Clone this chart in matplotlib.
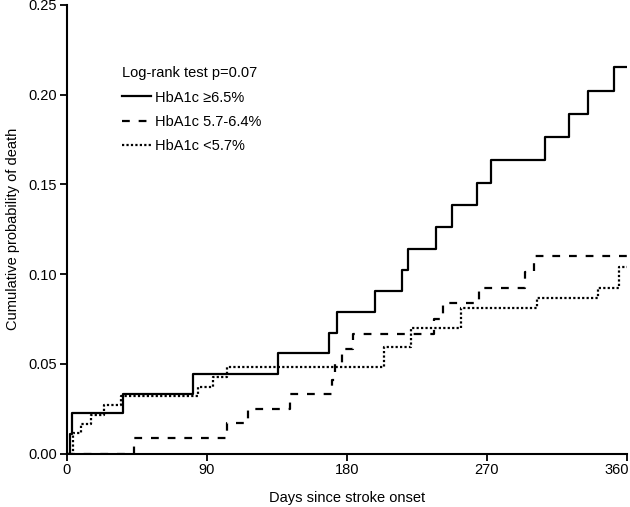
import matplotlib
matplotlib.use("Agg")
import matplotlib.pyplot as plt
from matplotlib.transforms import ScaledTranslation

plt.rcParams['font.family'] = ['Liberation Sans', 'DejaVu Sans']

# HbA1c >=6.5%
t_high = [0, 2.3, 3.3, 36, 81.4, 135.6, 168.8, 173.5, 198.1, 215.2, 219.1, 237.3,
          247.4, 263.4, 272.4, 307.5, 322.5, 334.7, 351.8, 360]
p_high = [0, 0.011, 0.0224, 0.0333, 0.0445, 0.0558, 0.067, 0.0787, 0.0907, 0.1023,
          0.114, 0.1264, 0.1387, 0.151, 0.1636, 0.1762, 0.189, 0.2022, 0.2153, 0.2153]

# HbA1c 5.7-6.4%
t_mid = [0, 43.4, 103.2, 116.5, 143.6, 170.3, 172.4, 176.8, 183.8, 236.1, 242, 265,
         294.5, 300.3, 360]
p_mid = [0, 0.0086, 0.0168, 0.0247, 0.033, 0.041, 0.050, 0.058, 0.0666, 0.075, 0.0837,
         0.0924, 0.1013, 0.110, 0.110]

# HbA1c <5.7%
t_low = [0, 4.2, 9.1, 15.5, 24, 35, 84.7, 94.3, 102.9, 204.1, 221.3, 253.4, 302.4,
         341.2, 355, 360]
p_low = [0, 0.0112, 0.0164, 0.0215, 0.027, 0.032, 0.0372, 0.0428, 0.0484, 0.0592,
         0.0701, 0.0813, 0.0868, 0.0924, 0.104, 0.104]

labels = ["HbA1c \u22656.5%", "HbA1c 5.7-6.4%", "HbA1c <5.7%"]
x_ticks = [0, 90, 180, 270, 360]
y_ticks = [0.00, 0.05, 0.10, 0.15, 0.20, 0.25]

fig = plt.figure(figsize=(6.3, 5.07), dpi=100)
ax = fig.add_axes([66.5 / 630, 1 - 453.5 / 507, (627 - 66.5) / 630, (453.5 - 5) / 507])

ax.plot(t_high, p_high, drawstyle='steps-post', color='black', lw=1.6, label=labels[0])
ax.plot(t_mid, p_mid, drawstyle='steps-post', color='black', lw=1.6,
        linestyle=(0, (3.5, 4)), label=labels[1])
ax.plot(t_low, p_low, drawstyle='steps-post', color='black', lw=1.6,
        linestyle=(0, (1, 1)), label=labels[2])

ax.set_xlim(0, 360)
ax.set_ylim(0, 0.25)
ax.set_xticks(x_ticks)
ax.set_yticks(y_ticks)
ax.set_xticklabels([str(v) for v in x_ticks])
ax.set_yticklabels([f"{v:.2f}" for v in y_ticks])
for s in ['top', 'right']:
    ax.spines[s].set_visible(False)
for s in ['left', 'bottom']:
    ax.spines[s].set_linewidth(1.5)
ax.tick_params(direction='out', length=5, width=1.3, labelsize=10.5, pad=2)

# keep last x tick label inside the canvas
last = ax.get_xticklabels()[-1]
last.set_horizontalalignment('right')
last.set_transform(last.get_transform() + ScaledTranslation(2 / 100, 0, fig.dpi_scale_trans))

ax.set_xlabel("Days since stroke onset", fontsize=10.5, labelpad=10)
ax.set_ylabel("Cumulative probability of death", fontsize=10.5, labelpad=6)

leg = ax.legend(title="Log-rank test p=0.07", loc='upper left',
                bbox_to_anchor=(122 / 630, 1 - 66 / 507), bbox_transform=fig.transFigure,
                frameon=False, fontsize=10.5, title_fontsize=10.5, alignment='left',
                handlelength=2.0, handletextpad=0.25, labelspacing=0.72, borderpad=0,
                borderaxespad=0)

fig.savefig("out.png", dpi=100)
